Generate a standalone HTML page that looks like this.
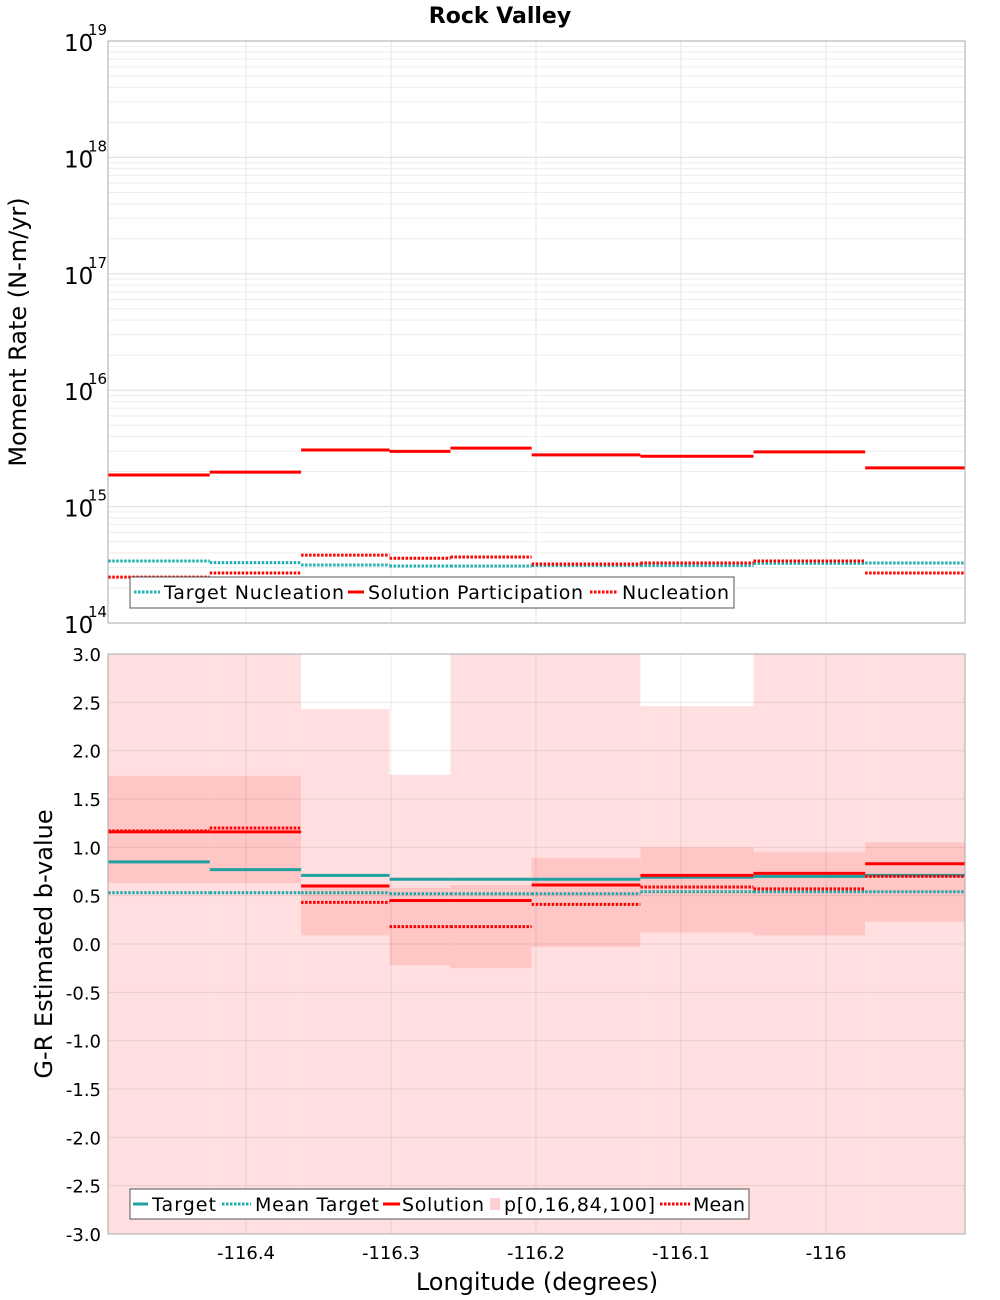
<!DOCTYPE html>
<html><head><meta charset="utf-8"><style>
body{margin:0;background:#fff;}
svg{display:block;font-family:"DejaVu Sans","Liberation Sans",sans-serif;}
</style></head><body>
<svg id="c" width="1000" height="1300"></svg>
<script>
const edges=[-116.495,-116.425,-116.362,-116.301,-116.259,-116.203,-116.128,-116.050,-115.973,-115.904];
const targetNuc=[3.41e14,3.3e14,3.15e14,3.09e14,3.09e14,3.12e14,3.12e14,3.25e14,3.28e14];
const solPart=[1.87e15,1.98e15,3.06e15,2.98e15,3.18e15,2.78e15,2.71e15,2.95e15,2.15e15];
const nucleation=[2.48e14,2.69e14,3.83e14,3.6e14,3.69e14,3.21e14,3.28e14,3.41e14,2.69e14];
const bTarget=[0.85,0.77,0.71,0.67,0.67,0.67,0.69,0.70,0.71];
const bMeanTarget=[0.53,0.53,0.53,0.52,0.52,0.52,0.54,0.54,0.54];
const bSolution=[1.16,1.16,0.60,0.45,0.45,0.61,0.71,0.73,0.83];
const bMean=[1.17,1.20,0.43,0.18,0.18,0.41,0.59,0.57,0.70];
const p0=[-3,-3,-3,-3,-3,-3,-3,-3,-3];
const p16=[0.63,0.63,0.09,-0.22,-0.25,-0.03,0.12,0.09,0.23];
const p84=[1.74,1.74,0.62,0.58,0.61,0.89,1.0,0.95,1.05];
const p100=[3,3,2.43,1.75,3,3,2.46,3,3];
const xTicks=[-116.4,-116.3,-116.2,-116.1,-116];
const xTickLabels=["-116.4","-116.3","-116.2","-116.1","-116"];
const yTopTicks=[14,15,16,17,18,19];
const yBotTicks=[-3,-2.5,-2,-1.5,-1,-0.5,0,0.5,1,1.5,2,2.5,3];

const L=108,R=965,T1=41,B1=623,T2=654,B2=1234;
const X=v=>246+(v+116.4)*1450;
const Y1=v=>623-(Math.log10(v)-14)*116.4;
const Y2=v=>654+(3-v)*(B2-T2)/6;
const svg=document.getElementById('c');const NS='http://www.w3.org/2000/svg';
function mk(t,a,p,txt){const e=document.createElementNS(NS,t);for(const k in a)e.setAttribute(k,a[k]);if(txt!==undefined)e.textContent=txt;(p||svg).appendChild(e);return e;}

let t=mk('text',{x:500,y:23,'text-anchor':'middle','font-size':22,'font-weight':'bold'},svg,'Rock Valley');



let g1=mk('g',{});


for(let d=14;d<19;d++)for(let m=1;m<10;m++){const y=Y1(m*Math.pow(10,d));mk('line',{x1:L,x2:R,y1:y,y2:y,stroke:m==1?'#ddd':'#eee','stroke-width':1},g1);}
xTicks.forEach(v=>mk('line',{x1:X(v),x2:X(v),y1:T1,y2:B1,stroke:'#e6e6e6'},g1));
function steps(g,arr,fy,color,dash,name){arr.forEach((v,i)=>{const l=mk('line',{x1:X(edges[i]),x2:X(edges[i+1]),y1:fy(v),y2:fy(v),stroke:color,'stroke-width':3,'stroke-dasharray':dash||'none'},g);

});}
steps(g1,targetNuc,Y1,'#20b2b2','2.5 1.5','target-nucleation');
steps(g1,nucleation,Y1,'#ff0000','2.5 1.5','nucleation');
steps(g1,solPart,Y1,'#ff0000',null,'solution-participation');
mk('rect',{x:L,y:T1,width:R-L,height:B1-T1,fill:'none',stroke:'#aaa'},g1);
yTopTicks.forEach(d=>{const y=Y1(Math.pow(10,d));const tx=mk('text',{x:64,y:y+10,'font-size':23},g1,'10');


mk('text',{x:88,y:y-6,'font-size':15},g1,String(d));});
t=mk('text',{x:0,y:0,transform:'translate(26,332) rotate(-90)','text-anchor':'middle','font-size':24},g1,'Moment Rate (N-m/yr)');


let lg=mk('g',{});


mk('rect',{x:130,y:577,width:604,height:31,fill:'#fff',stroke:'#555'},lg);
mk('line',{x1:134,x2:160,y1:592,y2:592,stroke:'#20b2b2','stroke-width':3,'stroke-dasharray':'2.5 1.5'},lg);
mk('text',{x:164,y:599,'font-size':19,textLength:180},lg,'Target Nucleation');
mk('line',{x1:348,x2:364,y1:592,y2:592,stroke:'#f00','stroke-width':3},lg);
mk('text',{x:368,y:599,'font-size':19,textLength:215},lg,'Solution Participation');
mk('line',{x1:590,x2:618,y1:592,y2:592,stroke:'#f00','stroke-width':3,'stroke-dasharray':'2.5 1.5'},lg);
mk('text',{x:622,y:599,'font-size':19,textLength:107},lg,'Nucleation');

let g2=mk('g',{});


edges.slice(0,-1).forEach((e,i)=>{const x1=X(e),x2=X(edges[i+1]);
const a=mk('rect',{x:x1,y:Y2(p100[i]),width:x2-x1,height:Y2(p0[i])-Y2(p100[i]),fill:'#ffdfdf'},g2);


const b=mk('rect',{x:x1,y:Y2(p84[i]),width:x2-x1,height:Y2(p16[i])-Y2(p84[i]),fill:'#ffc6c6'},g2);

});
yBotTicks.forEach(v=>{const y=Y2(v);mk('line',{x1:L,x2:R,y1:y,y2:y,stroke:'rgba(0,0,0,0.08)'},g2);
mk('text',{x:101,y:y+7,'text-anchor':'end','font-size':18},g2,v.toFixed(1));});
xTicks.forEach((v,i)=>{mk('line',{x1:X(v),x2:X(v),y1:T2,y2:B2,stroke:'rgba(0,0,0,0.08)'},g2);
const tx=mk('text',{x:X(v),y:1259,'text-anchor':'middle','font-size':18},g2,xTickLabels[i]);

});
steps(g2,bMeanTarget,Y2,'#20a8a8','2.5 1.5','mean-target');
steps(g2,bTarget,Y2,'#20a0a0',null,'target');
steps(g2,bMean,Y2,'#ff0000','2.5 1.5','mean');
steps(g2,bSolution,Y2,'#ff0000',null,'solution');
mk('rect',{x:L,y:T2,width:R-L,height:B2-T2,fill:'none',stroke:'#aaa'},g2);
t=mk('text',{x:0,y:0,transform:'translate(52,944) rotate(-90)','text-anchor':'middle','font-size':24},g2,'G-R Estimated b-value');


t=mk('text',{x:537,y:1290,'text-anchor':'middle','font-size':24},g2,'Longitude (degrees)');


lg=mk('g',{});


mk('rect',{x:130,y:1189,width:619,height:30,fill:'#fff',stroke:'#555'},lg);
mk('line',{x1:133,x2:148,y1:1204,y2:1204,stroke:'#20a0a0','stroke-width':3},lg);
mk('text',{x:152,y:1211,'font-size':19,textLength:64},lg,'Target');
mk('line',{x1:222,x2:251,y1:1204,y2:1204,stroke:'#20a8a8','stroke-width':3,'stroke-dasharray':'2.5 1.5'},lg);
mk('text',{x:255,y:1211,'font-size':19,textLength:124},lg,'Mean Target');
mk('line',{x1:383,x2:400,y1:1204,y2:1204,stroke:'#f00','stroke-width':3},lg);
mk('text',{x:402,y:1211,'font-size':19,textLength:82},lg,'Solution');
mk('rect',{x:490,y:1198,width:10,height:12,fill:'#ffd0d0'},lg);
mk('text',{x:504,y:1211,'font-size':19,textLength:151},lg,'p[0,16,84,100]');
mk('line',{x1:660,x2:690,y1:1204,y2:1204,stroke:'#f00','stroke-width':3,'stroke-dasharray':'2.5 1.5'},lg);
mk('text',{x:693,y:1211,'font-size':19,textLength:52},lg,'Mean');
</script>
</body></html>
